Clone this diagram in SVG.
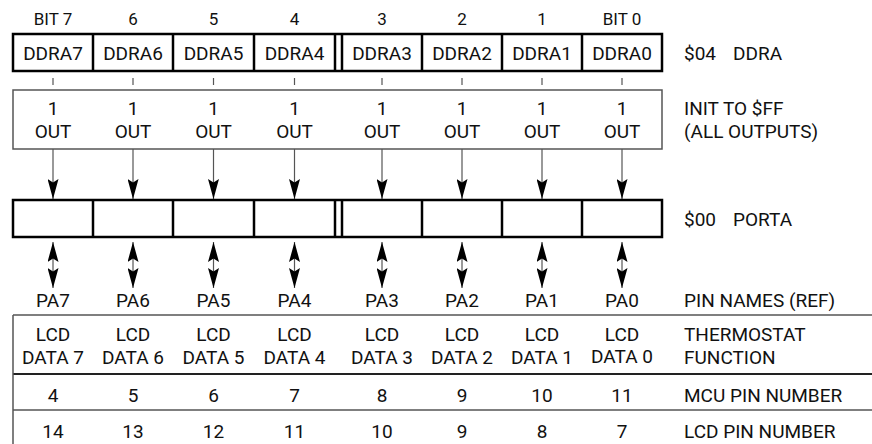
<svg xmlns="http://www.w3.org/2000/svg" width="872" height="444" viewBox="0 0 872 444">
<style>
text{font-family:Roboto,"Liberation Sans",Arial,sans-serif;fill:#111;font-size:19px}
.c{text-anchor:middle}
.bit{font-size:17px}
.thick{fill:none;stroke:#000;stroke-width:2.5}
.div{stroke:#000;stroke-width:2.5}
.thin{fill:none;stroke:#555;stroke-width:1.5}
.tick{stroke:#555;stroke-width:1.2}
.arr{stroke:#555;stroke-width:1.2;fill:none}
</style>
<defs>
<marker id="ah" markerUnits="userSpaceOnUse" viewBox="0 0 20 11" refX="20" refY="5.5" markerWidth="20" markerHeight="11" orient="auto-start-reverse">
<path d="M0,0 L20,5.5 L0,11 L3.5,5.5 z" fill="#000"/>
</marker>
</defs>

<g id="bit-labels">
<text class="c bit" x="53" y="25">BIT 7</text>
<text class="c bit" x="133" y="25">6</text>
<text class="c bit" x="213.5" y="25">5</text>
<text class="c bit" x="294.5" y="25">4</text>
<text class="c bit" x="382" y="25">3</text>
<text class="c bit" x="462" y="25">2</text>
<text class="c bit" x="542" y="25">1</text>
<text class="c bit" x="622" y="25">BIT 0</text>
</g>

<g id="ddra-register">
<rect class="thick" x="13" y="34" width="649" height="37"/>
<line class="div" x1="93" y1="34" x2="93" y2="71"/>
<line class="div" x1="173" y1="34" x2="173" y2="71"/>
<line class="div" x1="254" y1="34" x2="254" y2="71"/>
<line class="div" x1="335" y1="34" x2="335" y2="71"/>
<line class="div" x1="342" y1="34" x2="342" y2="71"/>
<line class="div" x1="422" y1="34" x2="422" y2="71"/>
<line class="div" x1="502" y1="34" x2="502" y2="71"/>
<line class="div" x1="582" y1="34" x2="582" y2="71"/>
<text class="c" x="53" y="60">DDRA7</text>
<text class="c" x="133" y="60">DDRA6</text>
<text class="c" x="213.5" y="60">DDRA5</text>
<text class="c" x="294.5" y="60">DDRA4</text>
<text class="c" x="382" y="60">DDRA3</text>
<text class="c" x="462" y="60">DDRA2</text>
<text class="c" x="542" y="60">DDRA1</text>
<text class="c" x="622" y="60">DDRA0</text>
<text x="684" y="60">$04</text>
<text x="733" y="60">DDRA</text>
</g>

<g id="ticks">
<line class="tick" x1="53" y1="78" x2="53" y2="85"/>
<line class="tick" x1="133" y1="78" x2="133" y2="85"/>
<line class="tick" x1="213.5" y1="78" x2="213.5" y2="85"/>
<line class="tick" x1="294.5" y1="78" x2="294.5" y2="85"/>
<line class="tick" x1="382" y1="78" x2="382" y2="85"/>
<line class="tick" x1="462" y1="78" x2="462" y2="85"/>
<line class="tick" x1="542" y1="78" x2="542" y2="85"/>
<line class="tick" x1="622" y1="78" x2="622" y2="85"/>
</g>

<g id="init-box">
<rect class="thin" x="13" y="90" width="649" height="59"/>
<text class="c" x="53" y="115">1</text>
<text class="c" x="133" y="115">1</text>
<text class="c" x="213.5" y="115">1</text>
<text class="c" x="294.5" y="115">1</text>
<text class="c" x="382" y="115">1</text>
<text class="c" x="462" y="115">1</text>
<text class="c" x="542" y="115">1</text>
<text class="c" x="622" y="115">1</text>
<text class="c" x="53" y="138">OUT</text>
<text class="c" x="133" y="138">OUT</text>
<text class="c" x="213.5" y="138">OUT</text>
<text class="c" x="294.5" y="138">OUT</text>
<text class="c" x="382" y="138">OUT</text>
<text class="c" x="462" y="138">OUT</text>
<text class="c" x="542" y="138">OUT</text>
<text class="c" x="622" y="138">OUT</text>
<text x="684" y="115">INIT TO $FF</text>
<text x="684" y="138">(ALL OUTPUTS)</text>
</g>

<g id="connectors">
<line class="arr" x1="53" y1="149" x2="53" y2="199" marker-end="url(#ah)"/>
<line class="arr" x1="133" y1="149" x2="133" y2="199" marker-end="url(#ah)"/>
<line class="arr" x1="213.5" y1="149" x2="213.5" y2="199" marker-end="url(#ah)"/>
<line class="arr" x1="294.5" y1="149" x2="294.5" y2="199" marker-end="url(#ah)"/>
<line class="arr" x1="382" y1="149" x2="382" y2="199" marker-end="url(#ah)"/>
<line class="arr" x1="462" y1="149" x2="462" y2="199" marker-end="url(#ah)"/>
<line class="arr" x1="542" y1="149" x2="542" y2="199" marker-end="url(#ah)"/>
<line class="arr" x1="622" y1="149" x2="622" y2="199" marker-end="url(#ah)"/>
<line class="arr" x1="53" y1="242" x2="53" y2="288" marker-start="url(#ah)" marker-end="url(#ah)"/>
<line class="arr" x1="133" y1="242" x2="133" y2="288" marker-start="url(#ah)" marker-end="url(#ah)"/>
<line class="arr" x1="213.5" y1="242" x2="213.5" y2="288" marker-start="url(#ah)" marker-end="url(#ah)"/>
<line class="arr" x1="294.5" y1="242" x2="294.5" y2="288" marker-start="url(#ah)" marker-end="url(#ah)"/>
<line class="arr" x1="382" y1="242" x2="382" y2="288" marker-start="url(#ah)" marker-end="url(#ah)"/>
<line class="arr" x1="462" y1="242" x2="462" y2="288" marker-start="url(#ah)" marker-end="url(#ah)"/>
<line class="arr" x1="542" y1="242" x2="542" y2="288" marker-start="url(#ah)" marker-end="url(#ah)"/>
<line class="arr" x1="622" y1="242" x2="622" y2="288" marker-start="url(#ah)" marker-end="url(#ah)"/>
</g>

<g id="porta-register">
<rect class="thick" x="13" y="200" width="649" height="37"/>
<line class="div" x1="93" y1="200" x2="93" y2="237"/>
<line class="div" x1="173" y1="200" x2="173" y2="237"/>
<line class="div" x1="254" y1="200" x2="254" y2="237"/>
<line class="div" x1="335" y1="200" x2="335" y2="237"/>
<line class="div" x1="342" y1="200" x2="342" y2="237"/>
<line class="div" x1="422" y1="200" x2="422" y2="237"/>
<line class="div" x1="502" y1="200" x2="502" y2="237"/>
<line class="div" x1="582" y1="200" x2="582" y2="237"/>
<text x="684" y="226">$00</text>
<text x="733" y="226">PORTA</text>
</g>

<g id="pin-names">
<text class="c" x="53" y="307">PA7</text>
<text class="c" x="133" y="307">PA6</text>
<text class="c" x="213.5" y="307">PA5</text>
<text class="c" x="294.5" y="307">PA4</text>
<text class="c" x="382" y="307">PA3</text>
<text class="c" x="462" y="307">PA2</text>
<text class="c" x="542" y="307">PA1</text>
<text class="c" x="622" y="307">PA0</text>
<text x="684" y="307">PIN NAMES (REF)</text>
</g>

<g id="pin-table">
<line class="thin" x1="13" y1="315" x2="872" y2="315"/>
<line class="thin" x1="13" y1="374" x2="872" y2="374" style="stroke:#222;stroke-width:2"/>
<line class="thin" x1="13" y1="410" x2="872" y2="410"/>
<line class="thin" x1="13" y1="315" x2="13" y2="444"/>
<text class="c" x="53" y="341">LCD</text>
<text class="c" x="133" y="341">LCD</text>
<text class="c" x="213.5" y="341">LCD</text>
<text class="c" x="294.5" y="341">LCD</text>
<text class="c" x="382" y="341">LCD</text>
<text class="c" x="462" y="341">LCD</text>
<text class="c" x="542" y="341">LCD</text>
<text class="c" x="622" y="341">LCD</text>
<text class="c" x="53" y="364">DATA 7</text>
<text class="c" x="133" y="364">DATA 6</text>
<text class="c" x="213.5" y="364">DATA 5</text>
<text class="c" x="294.5" y="364">DATA 4</text>
<text class="c" x="382" y="364">DATA 3</text>
<text class="c" x="462" y="364">DATA 2</text>
<text class="c" x="542" y="364">DATA 1</text>
<text class="c" x="622" y="362.5">DATA 0</text>
<text x="684" y="341">THERMOSTAT</text>
<text x="684" y="364">FUNCTION</text>
<text class="c" x="53" y="402">4</text>
<text class="c" x="133" y="402">5</text>
<text class="c" x="213.5" y="402">6</text>
<text class="c" x="294.5" y="402">7</text>
<text class="c" x="382" y="402">8</text>
<text class="c" x="462" y="402">9</text>
<text class="c" x="542" y="402">10</text>
<text class="c" x="622" y="402">11</text>
<text x="684" y="402">MCU PIN NUMBER</text>
<text class="c" x="53" y="438">14</text>
<text class="c" x="133" y="438">13</text>
<text class="c" x="213.5" y="438">12</text>
<text class="c" x="294.5" y="438">11</text>
<text class="c" x="382" y="438">10</text>
<text class="c" x="462" y="438">9</text>
<text class="c" x="542" y="438">8</text>
<text class="c" x="622" y="438">7</text>
<text x="684" y="438">LCD PIN NUMBER</text>
</g>
</svg>
